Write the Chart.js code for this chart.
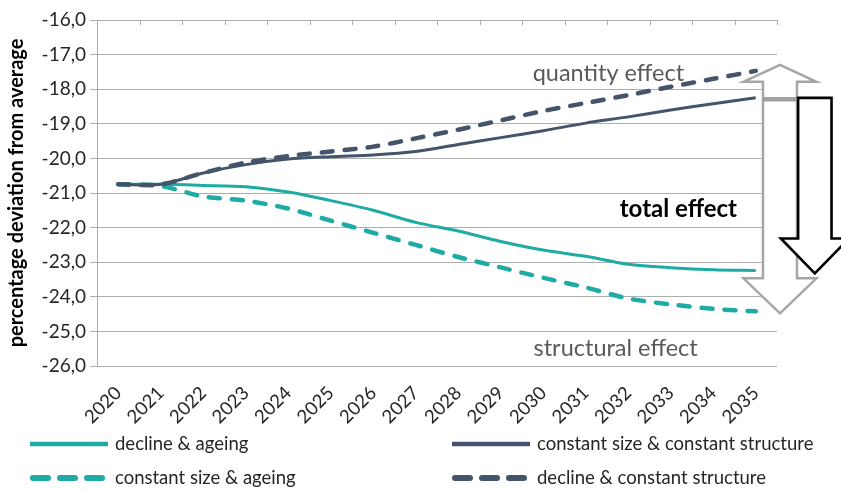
<!DOCTYPE html>
<html>
<head>
<meta charset="utf-8">
<script src="https://cdn.jsdelivr.net/npm/chart.js@4.4.1/dist/chart.umd.min.js"></script>
<style>
  html, body { margin: 0; padding: 0; background: #ffffff; }
  #wrap { width: 841px; height: 490px; }
</style>
</head>
<body>
<div id="wrap"><canvas id="chart" width="841" height="490"></canvas></div>
<script>
// Years on the horizontal axis
const years = ['2020','2021','2022','2023','2024','2025','2026','2027',
               '2028','2029','2030','2031','2032','2033','2034','2035'];

// Percentage deviation from average, per scenario
const declineAgeing            = [-20.75,-20.75,-20.78,-20.82,-20.97,-21.22,-21.50,-21.85,
                                  -22.10,-22.40,-22.65,-22.83,-23.06,-23.16,-23.22,-23.24];
const constantSizeAgeing       = [-20.75,-20.80,-21.10,-21.22,-21.45,-21.80,-22.15,-22.50,
                                  -22.85,-23.15,-23.45,-23.73,-24.05,-24.22,-24.35,-24.42];
const constantSizeStructure    = [-20.75,-20.75,-20.42,-20.18,-20.02,-19.95,-19.90,-19.80,
                                  -19.60,-19.40,-19.20,-18.98,-18.80,-18.60,-18.42,-18.25];
const declineConstantStructure = [-20.75,-20.75,-20.42,-20.12,-19.93,-19.80,-19.66,-19.42,
                                  -19.17,-18.90,-18.63,-18.40,-18.17,-17.93,-17.70,-17.47];

// Value axis range and step
const yMin = -26, yMax = -16, yStep = 1;

// Annotation texts
const quantityText = 'quantity effect';
const structuralText = 'structural effect';
const totalText = 'total effect';
const yTitle = 'percentage deviation from average';

const TEAL = '#1EABA5';
const SLATE = '#44546A';
const GRID = '#ADADAD';
const FONT = 'Lato';

const DASH = [11, 12];

// Thin tick marks hanging from the top edge between categories
const topTicks = {
  id: 'topTicks',
  afterDraw(chart) {
    const { ctx, chartArea } = chart;
    const xs = chart.scales.x;
    const step = xs.getPixelForValue(1) - xs.getPixelForValue(0);
    ctx.save();
    ctx.strokeStyle = GRID;
    ctx.lineWidth = 1;
    for (let i = 0; i <= years.length; i++) {
      const x = Math.round(xs.getPixelForValue(i) - step / 2) + 0.5;
      ctx.beginPath();
      ctx.moveTo(x, chartArea.top);
      ctx.lineTo(x, chartArea.top + 5);
      ctx.stroke();
    }
    ctx.restore();
  }
};

// Effect arrows and their captions
const effects = {
  id: 'effects',
  afterDraw(chart) {
    const { ctx } = chart;
    const xs = chart.scales.x, ys = chart.scales.y;
    const last = years.length - 1;
    const step = xs.getPixelForValue(1) - xs.getPixelForValue(0);
    const xEnd = xs.getPixelForValue(last);

    // double arrow: quantity effect (up) and structural effect (down)
    const gx = xEnd + 0.57 * step;
    const gTop = ys.getPixelForValue(declineConstantStructure[last]) - 6;
    const gBot = ys.getPixelForValue(constantSizeAgeing[last]) + 2;
    const gHead = 36.5, gShaft = 17;
    const gTopBase = gTop + 17, gBotBase = gBot - 35;
    ctx.save();
    ctx.lineJoin = 'miter';
    ctx.beginPath();
    ctx.moveTo(gx, gTop);
    ctx.lineTo(gx + gHead, gTopBase);
    ctx.lineTo(gx + gShaft, gTopBase);
    ctx.lineTo(gx + gShaft, gBotBase);
    ctx.lineTo(gx + gHead, gBotBase);
    ctx.lineTo(gx, gBot);
    ctx.lineTo(gx - gHead, gBotBase);
    ctx.lineTo(gx - gShaft, gBotBase);
    ctx.lineTo(gx - gShaft, gTopBase);
    ctx.lineTo(gx - gHead, gTopBase);
    ctx.closePath();
    ctx.fillStyle = '#ffffff';
    ctx.fill();
    ctx.strokeStyle = '#A6A6A6';
    ctx.lineWidth = 2.5;
    ctx.stroke();

    // level of the constant-structure end point
    const bandY = ys.getPixelForValue(constantSizeStructure[last]);
    const bx = xEnd + 1.39 * step;
    const bShaft = 16.7, bHead = 34;
    ctx.beginPath();
    ctx.moveTo(gx - gShaft, bandY + 1.5);
    ctx.lineTo(bx - bShaft, bandY + 1.5);
    ctx.strokeStyle = '#A0A0A0';
    ctx.lineWidth = 4.5;
    ctx.stroke();

    // total effect arrow (down)
    const bTip = ys.getPixelForValue(declineAgeing[last]) + 3;
    const bBase = bTip - 35;
    ctx.beginPath();
    ctx.moveTo(bx - bShaft, bandY);
    ctx.lineTo(bx + bShaft, bandY);
    ctx.lineTo(bx + bShaft, bBase);
    ctx.lineTo(bx + bHead, bBase);
    ctx.lineTo(bx, bTip);
    ctx.lineTo(bx - bHead, bBase);
    ctx.lineTo(bx - bShaft, bBase);
    ctx.closePath();
    ctx.fillStyle = '#ffffff';
    ctx.fill();
    ctx.strokeStyle = '#000000';
    ctx.lineWidth = 2.6;
    ctx.stroke();

    // captions
    ctx.textAlign = 'left';
    ctx.textBaseline = 'alphabetic';
    ctx.fillStyle = '#595959';
    ctx.font = `23.5px ${FONT}`;
    ctx.fillText(quantityText, xs.getPixelForValue(9.75), ys.getPixelForValue(-17.75));
    ctx.fillText(structuralText, xs.getPixelForValue(9.77), ys.getPixelForValue(-25.72));
    ctx.fillStyle = '#000000';
    ctx.font = `bold 24px ${FONT}`;
    ctx.fillText(totalText, xs.getPixelForValue(11.8), ys.getPixelForValue(-21.7));
    ctx.restore();
  }
};

// Two-column legend under the axis
const legendSlots = [
  { x: 30,  y: 444 },
  { x: 30,  y: 478 },
  { x: 452, y: 444 },
  { x: 452, y: 478 }
];
const gridLegend = {
  id: 'gridLegend',
  afterDraw(chart) {
    const { ctx } = chart;
    ctx.save();
    chart.data.datasets.forEach((ds, i) => {
      const s = legendSlots[i];
      ctx.beginPath();
      ctx.strokeStyle = ds.borderColor;
      ctx.lineWidth = ds.borderDash.length ? 6 : 4.5;
      ctx.lineCap = ds.borderDash.length ? 'round' : 'butt';
      ctx.setLineDash(ds.borderDash.length ? [15, 12] : []);
      const x0 = ds.borderDash.length ? s.x + 3 : s.x;
      ctx.moveTo(x0, s.y);
      ctx.lineTo(s.x + 78, s.y);
      ctx.stroke();
      ctx.setLineDash([]);
      ctx.fillStyle = '#262626';
      ctx.font = `18.5px ${FONT}`;
      ctx.textAlign = 'left';
      ctx.textBaseline = 'middle';
      ctx.fillText(ds.label, s.x + 85, s.y);
    });
    ctx.restore();
  }
};

new Chart(document.getElementById('chart'), {
  type: 'line',
  data: {
    labels: years,
    datasets: [
      { label: 'decline & ageing', data: declineAgeing, borderColor: TEAL,
        borderWidth: 3, borderDash: [], order: 2 },
      { label: 'constant size & ageing', data: constantSizeAgeing, borderColor: TEAL,
        borderWidth: 4.5, borderDash: DASH, borderCapStyle: 'round', order: 3 },
      { label: 'constant size & constant structure', data: constantSizeStructure, borderColor: SLATE,
        borderWidth: 3, borderDash: [], order: 1 },
      { label: 'decline & constant structure', data: declineConstantStructure, borderColor: SLATE,
        borderWidth: 4.5, borderDash: DASH, borderCapStyle: 'round', order: 0 }
    ]
  },
  options: {
    responsive: false,
    animation: false,
    devicePixelRatio: 1,
    layout: { padding: { top: 20, right: 64, bottom: 60, left: 5 } },
    elements: {
      line: { tension: 0.3, fill: false },
      point: { radius: 0, hoverRadius: 0 }
    },
    plugins: {
      legend: { display: false },
      tooltip: { enabled: false }
    },
    scales: {
      x: {
        type: 'category',
        offset: true,
        grid: { display: false, drawTicks: false },
        border: { display: false },
        ticks: {
          autoSkip: false,
          minRotation: 45,
          maxRotation: 45,
          padding: 16,
          color: '#262626',
          font: { family: FONT, size: 18.5 }
        },
        afterFit(scale) { scale.height = 64; }
      },
      y: {
        min: yMin,
        max: yMax,
        grid: { color: GRID, lineWidth: 1, tickLength: 7, drawTicks: true },
        border: { display: true, color: GRID, width: 1 },
        ticks: {
          stepSize: yStep,
          padding: 4,
          color: '#262626',
          font: { family: FONT, size: 19 },
          callback: v => v.toFixed(1).replace('.', ',')
        },
        title: {
          display: true,
          text: yTitle,
          color: '#000000',
          font: { family: FONT, size: 20, weight: 'bold' },
          padding: { top: 0, bottom: 0 }
        },
        afterFit(scale) { scale.width = 92; }
      }
    }
  },
  plugins: [topTicks, effects, gridLegend]
});
</script>
</body>
</html>
